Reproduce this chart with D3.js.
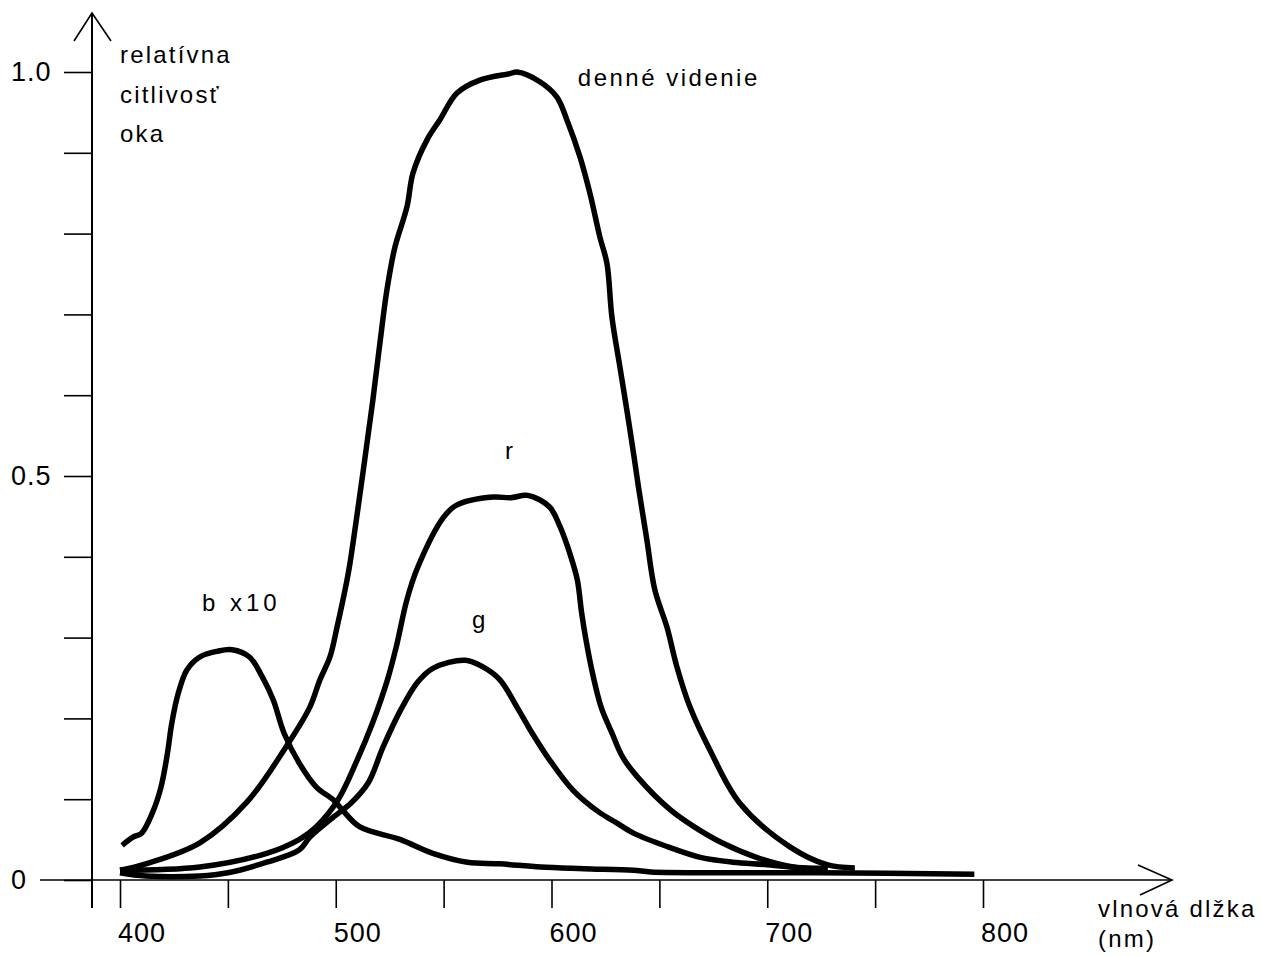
<!DOCTYPE html>
<html>
<head>
<meta charset="utf-8">
<script src="https://cdn.jsdelivr.net/npm/d3@7"></script>
<style>
  body { margin: 0; background: #fff; }
  text { font-family: "Liberation Sans", Arial, sans-serif; fill: #000; }
</style>
</head>
<body>
<script>
// curve data (wavelength in nm, relative sensitivity)
const dayNm = [400, 412, 437, 459, 477, 488, 492.7, 497.3, 500.6, 505.2, 506.6, 512.6, 517.2, 520.5, 523.7, 527.4, 533, 535.8, 542.3, 548.3, 556.2, 566.8, 580.7, 584, 594.6, 602.5, 607.1, 613.2, 617.8, 622.4, 625.7, 628, 631.7, 634.9, 638.2, 640.5, 644.2, 647.9, 653.5, 658.1, 664.2, 673.4, 687.3, 710.5, 727.6, 740.6];
const dayVal = [0.012, 0.020, 0.046, 0.097, 0.165, 0.214, 0.248, 0.276, 0.313, 0.371, 0.392, 0.504, 0.594, 0.665, 0.730, 0.783, 0.833, 0.875, 0.916, 0.941, 0.974, 0.990, 0.998, 1.000, 0.988, 0.969, 0.941, 0.895, 0.850, 0.796, 0.763, 0.697, 0.635, 0.582, 0.525, 0.483, 0.421, 0.359, 0.313, 0.264, 0.214, 0.161, 0.095, 0.041, 0.019, 0.015];

const redNm = [400, 437, 468, 483, 491, 501, 510, 517, 524, 528, 533, 538, 550, 556, 573, 581, 589, 599, 604, 609, 612, 614, 616, 619, 623, 628, 633, 640, 655, 666, 679, 695, 712, 728];
const redVal = [0.012, 0.016, 0.033, 0.050, 0.066, 0.099, 0.149, 0.194, 0.248, 0.288, 0.347, 0.387, 0.449, 0.464, 0.474, 0.473, 0.476, 0.462, 0.437, 0.400, 0.371, 0.330, 0.297, 0.256, 0.214, 0.182, 0.152, 0.127, 0.087, 0.066, 0.046, 0.028, 0.016, 0.015];

const greenNm = [400, 412, 437, 450, 468, 483, 488, 499, 507, 515, 522, 530, 538, 545, 560, 568, 576, 584, 591, 599, 610, 622, 630, 638, 654, 669, 684, 700, 715, 728];
const greenVal = [0.009, 0.005, 0.005, 0.009, 0.022, 0.037, 0.053, 0.078, 0.095, 0.120, 0.165, 0.210, 0.245, 0.262, 0.272, 0.264, 0.248, 0.214, 0.182, 0.149, 0.111, 0.084, 0.071, 0.058, 0.041, 0.028, 0.022, 0.019, 0.015, 0.012];

const blueNm = [401, 406, 410, 415, 419, 422, 424, 427, 431, 437, 445, 452, 460, 466, 471, 476, 483, 491, 499, 503, 511, 530, 545, 561, 576, 595, 615, 638, 646, 684, 724, 796];
const blueVal = [0.043, 0.053, 0.058, 0.083, 0.115, 0.157, 0.194, 0.231, 0.260, 0.276, 0.283, 0.285, 0.276, 0.251, 0.223, 0.182, 0.145, 0.115, 0.099, 0.087, 0.066, 0.050, 0.033, 0.022, 0.020, 0.016, 0.014, 0.012, 0.010, 0.009, 0.009, 0.007];

// axis ticks and labels
const yTicks = [0, 0.1, 0.2, 0.3, 0.4, 0.5, 0.6, 0.7, 0.8, 0.9, 1.0];
const yLabelValues = [0, 0.5, 1.0];
const yLabels = ["0", "0.5", "1.0"];
const xTicks = [400, 450, 500, 550, 600, 650, 700, 750, 800];
const xLabelValues = [400, 500, 600, 700, 800];

let svgWidth = 1262;
let svgHeight = 956;

let svg = d3.select("body")
    .append("svg")
    .attr("width", svgWidth)
    .attr("height", svgHeight);

let x = d3.scaleLinear().domain([400, 800]).range([120, 983]);
let y = d3.scaleLinear().domain([0, 1]).range([880, 72]);

// tick marks
svg.append("g")
    .attr("transform", "translate(92,0)")
    .call(d3.axisLeft(y).tickValues(yTicks).tickSize(28).tickFormat(""))
    .call(g => g.select(".domain").remove())
    .selectAll("line").attr("stroke", "#000").attr("stroke-width", 1.6);

svg.append("g")
    .attr("transform", `translate(0,${y(0)})`)
    .call(d3.axisBottom(x).tickValues(xTicks).tickSize(28).tickFormat(""))
    .call(g => g.select(".domain").remove())
    .selectAll("line").attr("stroke", "#000").attr("stroke-width", 1.6);

// axis lines with arrow heads
svg.append("line")
    .attr("x1", 92).attr("x2", 92).attr("y1", 13).attr("y2", 908)
    .attr("stroke", "#000").attr("stroke-width", 2);
svg.append("path")
    .attr("d", "M74,41L92,13L111,41")
    .attr("fill", "none").attr("stroke", "#000").attr("stroke-width", 1.6);

svg.append("line")
    .attr("x1", 40).attr("x2", 1172).attr("y1", y(0)).attr("y2", y(0))
    .attr("stroke", "#000").attr("stroke-width", 1.6);
svg.append("path")
    .attr("d", "M1138,865L1172,880L1140,895")
    .attr("fill", "none").attr("stroke", "#000").attr("stroke-width", 1.6);

// curves
let line = d3.line()
    .x(d => x(d[0]))
    .y(d => y(d[1]))
    .curve(d3.curveCatmullRom.alpha(0.5));

let series = [
    d3.zip(dayNm, dayVal),
    d3.zip(redNm, redVal),
    d3.zip(greenNm, greenVal),
    d3.zip(blueNm, blueVal)
];

svg.selectAll(".curve")
    .data(series)
    .enter()
    .append("path")
    .attr("class", "curve")
    .attr("d", line)
    .attr("fill", "none")
    .attr("stroke", "#000")
    .attr("stroke-width", 5.5)
    .attr("stroke-linejoin", "round");

// tick labels
svg.selectAll(".ylab")
    .data(yLabelValues)
    .enter()
    .append("text")
    .attr("x", 11)
    .attr("y", d => y(d) + 9)
    .attr("font-size", 27)
    .style("letter-spacing", "1px")
    .text((d, i) => yLabels[i]);

svg.selectAll(".xlab")
    .data(xLabelValues)
    .enter()
    .append("text")
    .attr("x", d => x(d) - 2)
    .attr("y", 942)
    .attr("font-size", 27)
    .style("letter-spacing", "1px")
    .text(d => d);

// titles and curve labels
function label(px, py, str, spacing) {
    svg.append("text")
        .attr("x", px)
        .attr("y", py)
        .attr("font-size", 24)
        .style("letter-spacing", (spacing || 2.2) + "px")
        .text(str);
}

label(120, 63, "relatívna");
label(120, 103, "citlivosť");
label(120, 142, "oka");
label(1098, 917, "vlnová dlžka");
label(1098, 947, "(nm)");

label(x(612.2), y(0.983), "denné videnie", 2.5);
label(x(578.4), y(0.521), "r");
label(x(563.1), y(0.312), "g");
label(x(438), y(0.333), "b x10", 4);
</script>
</body>
</html>
